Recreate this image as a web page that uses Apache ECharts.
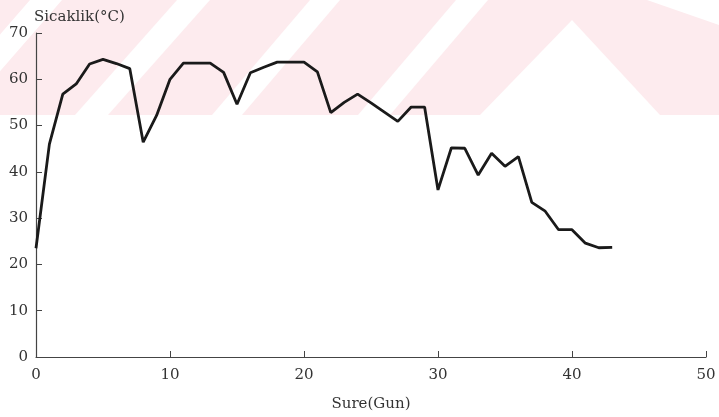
<!DOCTYPE html>
<html>
<head>
<meta charset="utf-8">
<script src="https://cdn.jsdelivr.net/npm/echarts@6/dist/echarts.min.js"></script>
<style>html,body{margin:0;padding:0;background:#fff;}#c{width:719px;height:417px;}</style>
</head>
<body>
<div id="c"></div>
<script>
// Days (Sure, Gun)
var days = [0,1,2,3,4,5,6,7,8,9,10,11,12,13,14,15,16,17,18,19,20,21,22,23,24,25,26,27,28,29,30,31,32,33,34,35,36,37,38,39,40,41,42,43];
// Temperature (Sicaklik, °C)
var temps = [23.5,46,56.8,59,63.3,64.3,63.4,62.3,46.4,52.2,60,63.5,63.5,63.5,61.5,54.6,61.4,62.6,63.7,63.7,63.7,61.6,52.8,55,56.8,54.9,52.9,50.9,54,54,36.1,45.2,45.1,39.3,44,41.2,43.3,33.4,31.5,27.5,27.5,24.6,23.6,23.7];
var xTicks = [0,10,20,30,40,50];
var yTicks = [0,10,20,30,40,50,60,70];

var pairs = days.map(function(d,i){return [d,temps[i]];});
var font = 'DejaVu Serif';
var pink = '#fdebee';
function poly(pts){return {type:'polygon',silent:true,z:-10,shape:{points:pts},style:{fill:'#ffffff'}};}

var chart = echarts.init(document.getElementById('c'));
chart.setOption({
  backgroundColor:'#ffffff',
  animation:false,
  graphic:[
    {type:'rect',silent:true,z:-20,shape:{x:0,y:0,width:719,height:115},style:{fill:pink}},
    poly([[-70,115],[-38,115],[62,0],[30,0]]),
    poly([[75,115],[108,115],[210,0],[177,0]]),
    poly([[212,115],[242,115],[340,0],[310,0]]),
    poly([[358,115],[390,115],[488,0],[456,0]]),
    poly([[480,115],[572,20],[660,115]]),
    poly([[647,0],[719,0],[719,25]])
  ],
  grid:{left:36,top:33,width:670,height:329},
  xAxis:{
    type:'value',min:0,max:50,interval:10,
    name:'Sure(Gun)',nameLocation:'middle',nameGap:40,
    nameTextStyle:{fontFamily:font,fontSize:15,color:'#333'},
    axisLine:{lineStyle:{color:'#444',width:1.2}},
    axisTick:{inside:true,length:6,lineStyle:{color:'#444'}},
    axisLabel:{fontFamily:font,fontSize:15,color:'#333',margin:11,
      formatter:function(v){return xTicks.indexOf(v)>=0?String(v):'';}},
    splitLine:{show:false}
  },
  yAxis:{
    type:'value',min:0,max:70,interval:10,
    name:'Sicaklik(°C)',nameLocation:'end',nameGap:8,
    nameTextStyle:{fontFamily:font,fontSize:15,color:'#333',align:'left',padding:[0,0,0,-2]},
    axisLine:{show:true,lineStyle:{color:'#444',width:1.2}},
    axisTick:{show:true,inside:true,length:6,lineStyle:{color:'#444'}},
    axisLabel:{fontFamily:font,fontSize:15,color:'#333',margin:8,
      formatter:function(v){return yTicks.indexOf(v)>=0?String(v):'';}},
    splitLine:{show:false}
  },
  series:[{
    type:'line',data:pairs,showSymbol:false,symbol:'none',
    lineStyle:{color:'#1a1a1a',width:2.8},z:5
  }]
});
</script>
</body>
</html>
